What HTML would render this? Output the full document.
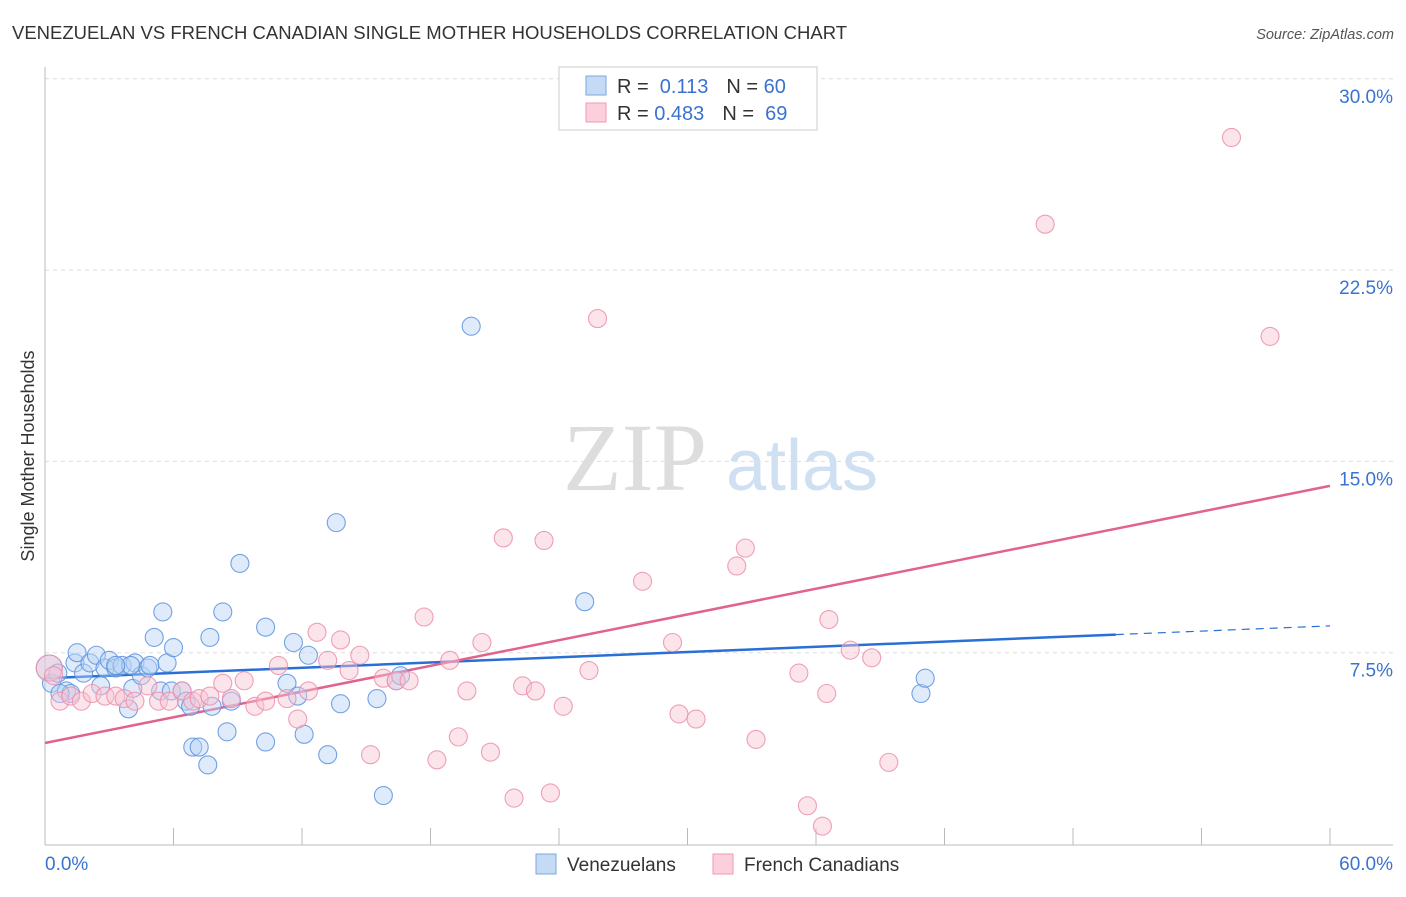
<!DOCTYPE html>
<html><head><meta charset="utf-8"><style>
body{margin:0;background:#fff;font-family:"Liberation Sans",sans-serif}
</style></head><body>
<svg id="chart" width="1406" height="892" xmlns="http://www.w3.org/2000/svg" font-family="Liberation Sans, sans-serif">
<text x="12" y="39" font-size="18.5" fill="#333">VENEZUELAN VS FRENCH CANADIAN SINGLE MOTHER HOUSEHOLDS CORRELATION CHART</text>
<text x="1394" y="39" font-size="14.5" font-style="italic" fill="#555" text-anchor="end">Source: ZipAtlas.com</text>
<text transform="translate(34,456) rotate(-90)" font-size="18" fill="#333" text-anchor="middle">Single Mother Households</text>
<g>
<text x="635" y="490" font-size="96" font-family="Liberation Serif, serif" fill="#ddd" text-anchor="middle">ZIP</text>
<text x="802" y="490" font-size="72" fill="#cfe0f3" text-anchor="middle">atlas</text>
</g>
<g id="grid"></g><g id="axes"></g><g id="trends"></g><g id="points"></g>
<g>
<rect x="559" y="67" width="258" height="63" fill="#fff" stroke="#ccc"/>
<rect x="586" y="76" width="20" height="19" fill="#c5daf5" stroke="#7aa7e0"/>
<rect x="586" y="103" width="20" height="19" fill="#fbd0dc" stroke="#ef9ab2"/>
<text x="617" y="93" font-size="20" fill="#333">R = <tspan fill="#3a73cf">&#160;0.113</tspan><tspan dx="18">N = </tspan><tspan fill="#3a73cf">60</tspan></text>
<text x="617" y="120" font-size="20" fill="#333">R = <tspan fill="#3a73cf">0.483</tspan><tspan dx="18">N = </tspan><tspan fill="#3a73cf">&#160;69</tspan></text>
</g>
<g>
<rect x="536" y="854" width="20" height="20" fill="#c5daf5" stroke="#7aa7e0"/>
<text x="567" y="871" font-size="19" fill="#333">Venezuelans</text>
<rect x="713" y="854" width="20" height="20" fill="#fbd0dc" stroke="#ef9ab2"/>
<text x="744" y="871" font-size="19" fill="#333">French Canadians</text>
</g>
</svg>
<script>
const xTicks=[0,6,12,18,24,30,36,42,48,54,60];
const yTicks=[7.5,15,22.5,30];
const yTickLabels=["7.5%","15.0%","22.5%","30.0%"];
const blueX=[0.2,0.3,0.6,1.0,1.2,1.4,1.5,1.8,2.1,2.4,2.6,2.8,3.0,3.3,3.6,3.9,4.1,4.2,4.5,4.8,4.9,5.1,5.4,5.5,5.7,5.9,6.0,6.4,6.6,6.8,6.9,7.2,7.6,7.7,7.8,8.3,8.5,8.7,9.1,10.3,10.3,11.3,11.6,11.8,12.1,12.3,13.2,13.6,13.8,15.5,15.8,16.4,16.6,19.9,25.2,40.9,41.1,0.7,4.0,3.3];
const blueY=[6.9,6.3,6.7,6.0,5.9,7.1,7.5,6.7,7.1,7.4,6.2,6.9,7.2,6.9,7.0,5.3,6.1,7.1,6.6,6.9,7.0,8.1,6.0,9.1,7.1,6.0,7.7,6.0,5.6,5.4,3.8,3.8,3.1,8.1,5.4,9.1,4.4,5.6,11.0,8.5,4.0,6.3,7.9,5.8,4.3,7.4,3.5,12.6,5.5,5.7,1.9,6.4,6.6,20.3,9.5,5.9,6.5,5.9,7.0,7.0];
const pinkX=[0.2,0.4,0.7,1.2,1.7,2.2,2.8,3.3,3.7,4.2,4.8,5.3,5.8,6.4,6.9,7.2,7.7,8.3,8.7,9.3,9.8,10.3,10.9,11.3,11.8,12.3,12.7,13.2,13.8,14.2,14.7,15.2,15.8,16.4,17.0,17.7,18.3,18.9,19.3,19.7,20.4,20.8,21.4,21.9,22.3,22.9,23.3,23.6,24.2,25.4,25.8,27.9,29.3,29.6,30.4,32.3,32.7,33.2,35.2,35.6,36.3,36.5,36.6,37.6,38.6,39.4,46.7,55.4,57.2];
const pinkY=[6.9,6.6,5.6,5.8,5.6,5.9,5.8,5.8,5.7,5.6,6.2,5.6,5.6,6.0,5.6,5.7,5.8,6.3,5.7,6.4,5.4,5.6,7.0,5.7,4.9,6.0,8.3,7.2,8.0,6.8,7.4,3.5,6.5,6.4,6.4,8.9,3.3,7.2,4.2,6.0,7.9,3.6,12.0,1.8,6.2,6.0,11.9,2.0,5.4,6.8,20.6,10.3,7.9,5.1,4.9,10.9,11.6,4.1,6.7,1.5,0.7,5.9,8.8,7.6,7.3,3.2,24.3,27.7,19.9];
const blueTrend=[6.5,0.0342]; // intercept, slope
const pinkTrend=[3.96,0.168];
const NS="http://www.w3.org/2000/svg";
const X=v=>45+v/60*1285, Y=v=>844-v/7.5*191.3;
function mk(tag,parent,attrs){const e=document.createElementNS(NS,tag);for(const k in attrs)e.setAttribute(k,attrs[k]);document.getElementById(parent).appendChild(e);return e;}
yTicks.forEach((t,i)=>{
 const g=mk('line','grid',{x1:45,x2:1393,y1:Y(t),y2:Y(t),stroke:'#ddd','stroke-dasharray':'4,4'});
 
 
 const l=mk('text','axes',{x:1393,y:Y(t)+24,'font-size':19,fill:'#3a73cf','text-anchor':'end'});
 l.textContent=yTickLabels[i];
 
 
});
const ya=mk('line','axes',{x1:45,x2:45,y1:67,y2:845,stroke:'#bbb'});


const xa=mk('line','axes',{x1:45,x2:1393,y1:845,y2:845,stroke:'#bbb'});


xTicks.forEach(t=>{
 const k=mk('line','axes',{x1:X(t),x2:X(t),y1:828,y2:845,stroke:'#bbb'});
 
 
});
const x0=mk('text','axes',{x:45,y:870,'font-size':19,fill:'#3a73cf'});x0.textContent='0.0%';


const x1=mk('text','axes',{x:1393,y:870,'font-size':19,fill:'#3a73cf','text-anchor':'end'});x1.textContent='60.0%';


function dots(xs,ys,fill,stroke,name){xs.forEach((v,i)=>{
 const c=mk('circle','points',{cx:X(v),cy:Y(ys[i]),r:i===0?13:9,fill:fill,'fill-opacity':0.45,stroke:stroke,'stroke-width':1.1,'stroke-opacity':0.85});
 
 
});}
dots(blueX,blueY,'#b9d3f3','#5b93de','venezuelan-point');
dots(pinkX,pinkY,'#f9c3d3','#ec8fab','french-canadian-point');
const bt=v=>blueTrend[0]+blueTrend[1]*v, pt=v=>pinkTrend[0]+pinkTrend[1]*v;
const b1=mk('line','trends',{x1:X(0),y1:Y(bt(0)),x2:X(50),y2:Y(bt(50)),stroke:'#2a6fd6','stroke-width':2.5});


const b2=mk('line','trends',{x1:X(50),y1:Y(bt(50)),x2:X(60),y2:Y(bt(60)),stroke:'#2a6fd6','stroke-width':1.2,'stroke-dasharray':'8,6'});


const p1=mk('line','trends',{x1:X(0),y1:Y(pt(0)),x2:X(60),y2:Y(pt(60)),stroke:'#e2628c','stroke-width':2.5});


</script>
</body></html>
